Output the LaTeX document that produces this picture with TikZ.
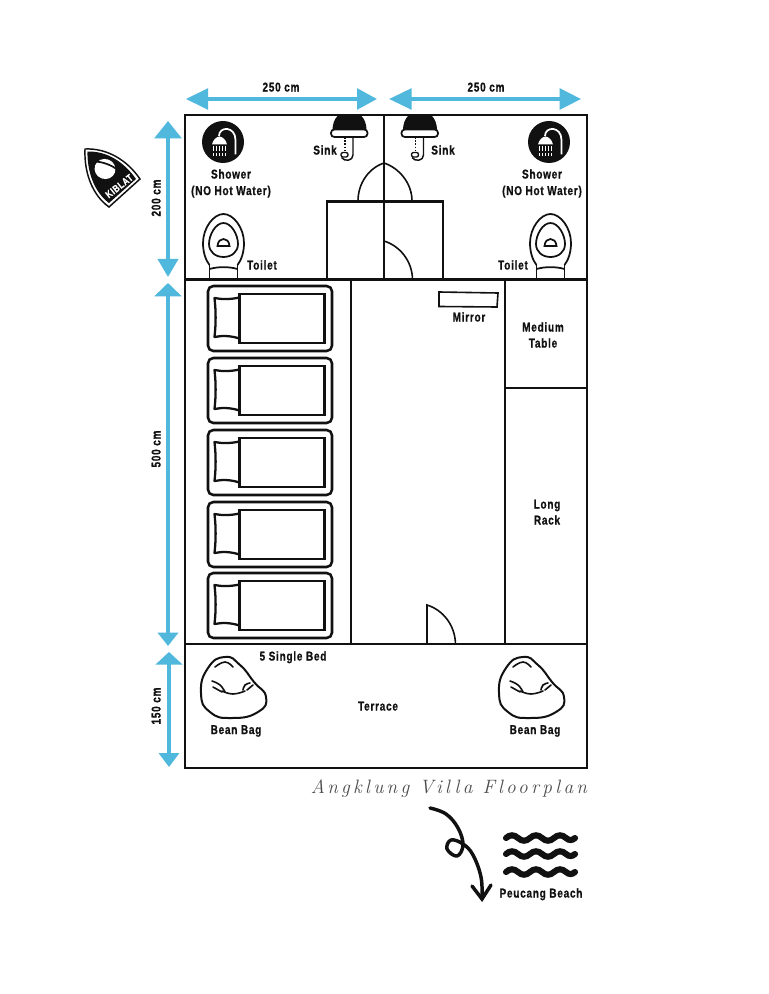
\documentclass[tikz,border=0pt]{standalone}
\usepackage{fontspec}
\setmainfont{Liberation Sans}
\newfontfamily\planfont[UprightFont=* Bold,FakeStretch=0.78,FakeBold=0.8,LetterSpace=6]{Liberation Sans}
\newfontfamily\cursivefont[LetterSpace=17]{Latin Modern Roman}
\usetikzlibrary{arrows.meta}
\definecolor{dimblue}{HTML}{4FB8DC}
\definecolor{ink}{HTML}{111111}
\tikzset{
  wall/.style={draw=ink,line width=1.6pt},
  thin wall/.style={draw=ink,line width=1.2pt},
  lbl/.style={font=\planfont\fontsize{9.6}{11}\selectfont,text=ink,inner sep=0pt,text height=6.8pt,text depth=0pt},
  dim/.style={draw=dimblue,line width=2.7pt},
  bedpic/.pic={
    \draw[draw=ink,line width=1.9pt,rounded corners=4pt] (0,0) rectangle (124,65);
    \draw[draw=ink,line width=1.9pt] (31.5,8) rectangle (116.5,57);
    \draw[draw=ink,line width=1.7pt,line join=round] (31.5,11.5) .. controls (22,13.5) and (14,13.5) .. (6.5,12) .. controls (8,25) and (8,38) .. (6.5,51) .. controls (14,49.5) and (22,49.5) .. (31.5,52.5);
  },
  showerpic/.pic={
    \fill[ink] (0,0) circle (21);
    \draw[white,line width=1.3pt] (12.5,12.5) -- (12.5,-2) .. controls (12.5,-16) and (-4,-16) .. (-4,-6);
    \fill[white] (-11,2.5) .. controls (-10,-2) and (-7,-5) .. (-3.5,-5.5) .. controls (0,-5) and (3,-2) .. (4,2.5) -- cycle;
    \foreach \dx in {-10,-7,-4,-1,2}{
      \draw[white,line width=0.7pt] (\dx,4.5) -- (\dx,9.5);
      \draw[white,line width=0.7pt] (\dx,11.5) -- (\dx,14.5);
    }
  },
  sinkpic/.pic={
    \fill[ink] (-12,0) -- (12,0) .. controls (15,3) and (17,8) .. (17,14) -- (-17,14) .. controls (-17,8) and (-15,3) .. (-12,0) -- cycle;
    \draw[draw=ink,fill=white,line width=1.3pt,rounded corners=2.5pt] (-18.5,13.5) rectangle (18,21);
    \draw[draw=ink,line width=1pt,dash pattern=on 1.2pt off 1.2pt] (-4.5,21) -- (-4.5,35);
    \draw[draw=ink,line width=1pt,rounded corners=1.5pt] (-8.5,36.5) rectangle (-1.5,41);
    \draw[draw=ink,line width=1.1pt] (3.5,21) -- (3.5,39) .. controls (3.5,45) and (-5,46) .. (-8,41.5);
  },
  toiletpic/.pic={
    \draw[draw=ink,line width=1.3pt] (-14,51) .. controls (-18,46) and (-20.5,38) .. (-20.5,29) .. controls (-20.5,14) and (-10,0) .. (0,0) .. controls (10,0) and (20.5,14) .. (20.5,29) .. controls (20.5,38) and (18,46) .. (14,51);
    \draw[draw=ink,line width=1.3pt] (0,9) .. controls (-8,9) and (-14.5,21) .. (-14.5,30) .. controls (-14.5,38) and (-8,43) .. (0,43) .. controls (8,43) and (14.5,38) .. (14.5,30) .. controls (14.5,21) and (8,9) .. (0,9) -- cycle;
    \draw[draw=ink,line width=1.3pt] (-6,32) -- (6,32) .. controls (5.5,27) and (3,25) .. (0,25) .. controls (-3,25) and (-5.5,27) .. (-6,32) -- cycle;
    \draw[draw=ink,line width=1.3pt] (-14,51) -- (-14,65) (14,51) -- (14,65);
    \draw[draw=ink,line width=1.3pt] (-14,55) .. controls (-5,52.5) and (5,52.5) .. (14,55);
  },
  beanpic/.pic={
    \draw[draw=ink,line width=1.5pt] plot[smooth cycle,tension=0.9] coordinates {(225,657) (240,665) (254,682) (266,697) (258,712) (232,718) (210,712) (201,693) (208,668)};
    \draw[draw=ink,line width=1.2pt,line cap=round] plot[smooth,tension=0.8] coordinates {(215,667) (225,662) (233,667)};
    \draw[draw=ink,line width=1.2pt,line cap=round] plot[smooth,tension=0.8] coordinates {(212,681) (220,685) (225,692)};
    \draw[draw=ink,line width=1.2pt,line cap=round] plot[smooth,tension=0.8] coordinates {(213,687) (222,692)};
    \draw[draw=ink,line width=1.2pt,line cap=round] plot[smooth,tension=0.8] coordinates {(222,691) (233,694) (245,691)};
    \draw[draw=ink,line width=1.2pt,line cap=round] plot[smooth,tension=0.8] coordinates {(243,690) (245,685) (250,683)};
    \draw[draw=ink,line width=1.2pt,line cap=round] plot[smooth,tension=0.8] coordinates {(247,690) (253,685)};
  },
  wavepic/.pic={
    \draw[draw=ink,line width=4.6pt,line cap=round] (0,0) .. controls (4,-3.6) and (8,-3.6) .. (12,0) .. controls (16,3.6) and (20,3.6) .. (24,0) .. controls (28,-3.6) and (32,-3.6) .. (36,0) .. controls (40,3.6) and (44,3.6) .. (48,0) .. controls (52,-3.6) and (56,-3.6) .. (60,0) .. controls (63,2.7) and (66,2.7) .. (69,0);
  },
}
\begin{document}
\begin{tikzpicture}[x=0.75pt,y=-0.75pt]
\useasboundingbox[fill=white] (0,0) rectangle (768,994);
% dimension arrows
\coordinate (t1a) at (186,99); \coordinate (t1b) at (377,99);
\coordinate (t2a) at (389,99); \coordinate (t2b) at (581,99);
\coordinate (l1a) at (168,121); \coordinate (l1b) at (168,277);
\coordinate (l2a) at (168,283); \coordinate (l2b) at (168,646);
\coordinate (l3a) at (169,652); \coordinate (l3b) at (169,767);
\draw[dim,{Triangle[length=16.5pt,width=15.5pt]}-{Triangle[length=15pt,width=15.5pt]}] (t1a) -- (t1b);
\draw[dim,{Triangle[length=17pt,width=15.5pt]}-{Triangle[length=16pt,width=15.5pt]}] (t2a) -- (t2b);
\draw[dim,{Triangle[length=13pt,width=20pt]}-{Triangle[length=13.5pt,width=15pt]}] (l1a) -- (l1b);
\draw[dim,{Triangle[length=10pt,width=20pt]}-{Triangle[length=10pt,width=15pt]}] (l2a) -- (l2b);
\draw[dim,{Triangle[length=9.5pt,width=20pt]}-{Triangle[length=10.5pt,width=15pt]}] (l3a) -- (l3b);
% walls
\draw[wall] (185,115) rectangle (587,768);
\draw[wall] (185,279.5) -- (587,279.5);
\draw[wall] (185,644) -- (587,644);
\draw[wall] (384,115) -- (384,279);
\draw[wall] (327,279) -- (327,201.5) -- (443,201.5) -- (443,279);
\draw[wall] (351,279) -- (351,644);
\draw[wall] (505,279) -- (505,644);
\draw[wall] (505,388) -- (587,388);
% doors
\draw[thin wall] (358,201) .. controls (358,183) and (369,168) .. (384,163) .. controls (399,168) and (412,183) .. (412,201);
\draw[thin wall] (384,241) .. controls (400,246) and (412,261) .. (412.5,279);
\draw[thin wall] (427,644) -- (427,605) .. controls (443,610) and (455,625) .. (455.5,644);
% mirror
\draw[wall,line width=1.2pt] (439,292) -- (498,293) -- (497,307) -- (439,306.5) -- cycle;
% beds
\foreach \by in {286,358,430,502,573}{ \pic at (208,\by) {bedpic}; }
% icons
\pic at (223,142) {showerpic};
\pic at (549,142) {showerpic};
\pic at (349.5,116) {sinkpic};
\pic at (420,116) {sinkpic};
\pic at (223.5,214) {toiletpic};
\pic at (550.5,214) {toiletpic};
\pic at (0,0) {beanpic};
\pic at (298,0) {beanpic};
% kiblat badge
\draw[draw=ink,fill=white,line width=1.1pt,line join=miter] (85,149) .. controls (107,148) and (127,160) .. (140,179) -- (109,207) .. controls (92,195) and (84,172) .. (85,149) -- cycle;
\fill[ink] (87.5,151.5) .. controls (107,151) and (124,162) .. (136,179) -- (109,203) .. controls (94,192) and (87,171) .. (87.5,151.5) -- cycle;
\fill[white,rotate around={-20:(105,169)}] (105,169) ellipse (10.5 and 10);
\draw[ink,line width=1.3pt,rotate around={-20:(105,169)}] (93,165.5) .. controls (100,163) and (110,163) .. (117,165.5);
\node[rotate=38,text=white,font=\planfont\fontsize{7.6}{9}\selectfont,inner sep=0pt,text height=5.5pt,text depth=0pt] (kiblat) at (119,186) {KIBLAT};
% labels
\node[lbl] (w1) at (281,87) {250 cm};
\node[lbl] (w2) at (486,87) {250 cm};
\node[lbl,rotate=90] (h1) at (156,198) {200 cm};
\node[lbl,rotate=90] (h2) at (156,449) {500 cm};
\node[lbl,rotate=90] (h3) at (156,706) {150 cm};
\node[lbl] (s1) at (325,150) {Sink};
\node[lbl] (s2) at (443,150) {Sink};
\node[lbl] (sh1) at (231,174) {Shower};
\node[lbl] (hw1) at (231,190.5) {(NO Hot Water)};
\node[lbl] (sh2) at (542,174) {Shower};
\node[lbl] (hw2) at (542,190.5) {(NO Hot Water)};
\node[lbl] (t1) at (262,265) {Toilet};
\node[lbl] (t2) at (513,265) {Toilet};
\node[lbl] (mi) at (469,317) {Mirror};
\node[lbl] (mt) at (543,327) {Medium};
\node[lbl] (mt2) at (543,343) {Table};
\node[lbl] (lr) at (547,504) {Long};
\node[lbl] (lr2) at (547,520) {Rack};
\node[lbl] (bed) at (293,656) {5 Single Bed};
\node[lbl] (bb1) at (236,729.5) {Bean Bag};
\node[lbl] (bb2) at (535,729.5) {Bean Bag};
\node[lbl] (ter) at (378,706) {Terrace};
\node[lbl] (pb) at (541,893) {Peucang Beach};
\node[font=\cursivefont\itshape\fontsize{14.5}{16}\selectfont,text=black!70,inner sep=0pt] (title) at (449,789) {Angklung Villa Floorplan};
% route arrow
\draw[ink,line width=2.6pt,line cap=round,line join=round] plot[smooth,tension=0.65] coordinates {(430,808) (446,814) (458,828) (463,845) (457,856) (447,849) (451,840) (463,844) (473,855) (481,877) (482,898)};
\draw[ink,line width=2.6pt,line cap=round,line join=miter] (472,886) -- (482,899) -- (491,885);
% waves
\foreach \wy in {838,854,872}{ \pic at (506,\wy) {wavepic}; }
\end{tikzpicture}
\end{document}
